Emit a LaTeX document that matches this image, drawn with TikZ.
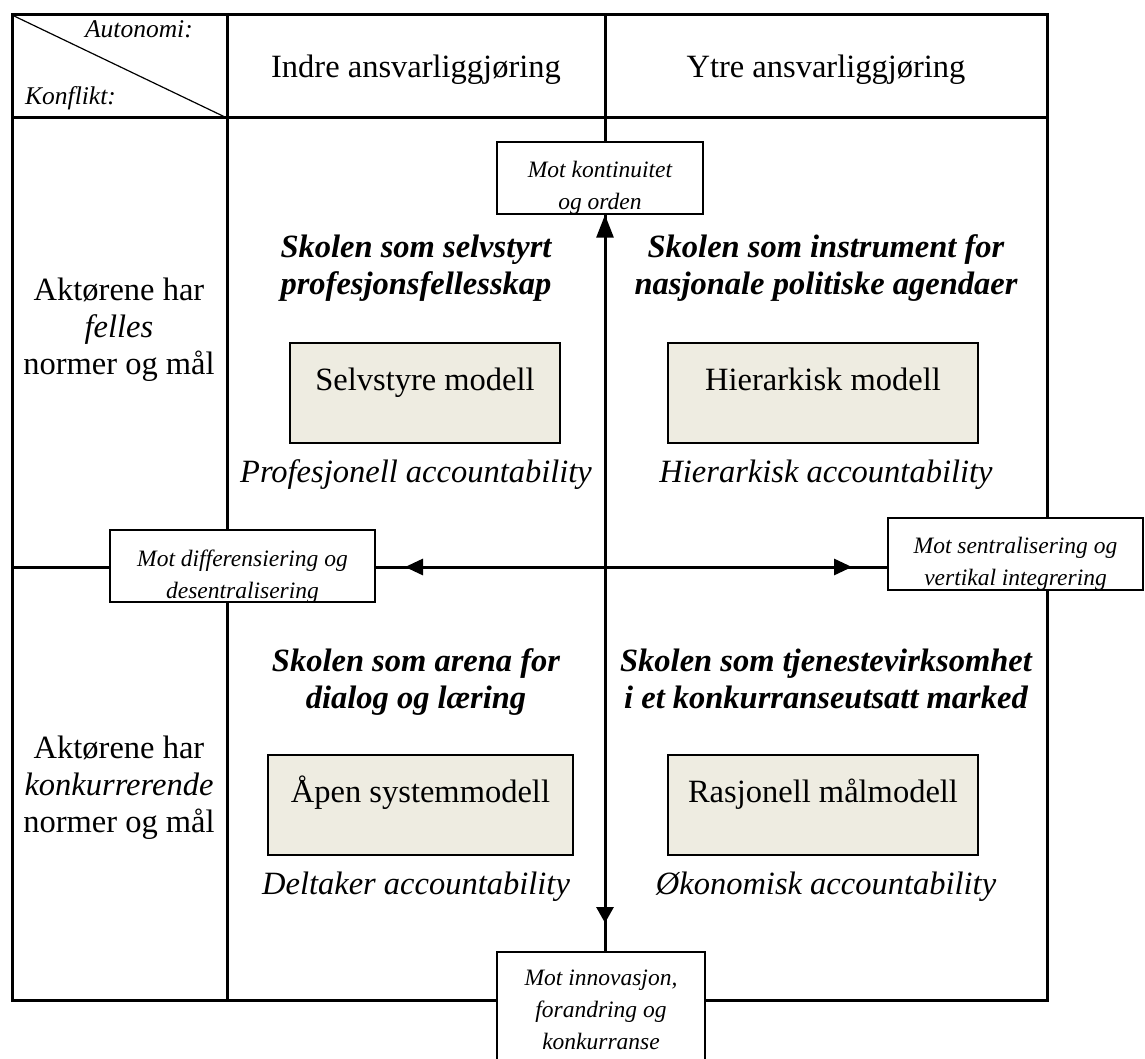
\documentclass[tikz,border=0pt]{standalone}
\usepackage{fontspec}
\setmainfont{Liberation Serif}
\usetikzlibrary{arrows.meta}
\definecolor{boxgrey}{HTML}{EEECE1}
\begin{document}
\begin{tikzpicture}[x=1pt,y=-1pt,
  grid/.style={line width=3pt},
  axis/.style={line width=3pt},
  big/.style={font=\fontsize{32.5}{37}\selectfont},
  bigit/.style={font=\fontsize{32.5}{37}\selectfont\itshape},
  bigbi/.style={font=\fontsize{32.5}{37}\selectfont\bfseries\itshape},
  hdr/.style={font=\fontsize{25.5}{30}\selectfont\itshape},
  model/.style={draw, line width=2pt, fill=boxgrey, inner sep=0pt, text height=47pt, text depth=53pt, anchor=base,
                font=\fontsize{32.5}{37}\selectfont},
  tagbox/.style={draw, line width=1.5pt, fill=white, inner sep=0pt},
  tagtext/.style={draw=none, fill=none, minimum width=0pt, minimum height=0pt, inner sep=0pt,
                  align=center, anchor=north, font=\fontsize{23.5}{32}\selectfont\itshape},
]
\useasboundingbox (0,0) rectangle (1145,1059);

% table grid
\draw[grid] (12,15) rectangle (1047,1000);
\draw[grid] (12,118) -- (1047,118);
\draw[grid] (227,15) -- (227,1000);
\draw[grid] (605,15) -- (605,1000);
\draw[grid] (12,567) -- (1047,567);
\draw[line width=1.2pt] (12,15) -- (227,118);

% header
\node[big, anchor=base] (indre) at (416,78) {Indre ansvarliggjøring};
\node[big, anchor=base] (ytre) at (826,78) {Ytre ansvarliggjøring};
\node[hdr, anchor=base east, inner sep=0pt] (auto) at (193,38) {Autonomi:};
\node[hdr, anchor=base west, inner sep=0pt] (konf) at (25,105) {Konflikt:};

% row labels
\node[big, align=center, anchor=north, inner sep=0pt] (felles) at (119,277.6) {Aktørene har\\\textit{felles}\\normer og mål};
\node[big, align=center, anchor=north, inner sep=0pt] (konk) at (119,735.6) {Aktørene har\\\textit{konkurrerende}\\normer og mål};

% quadrant titles
\node[bigbi, align=center, anchor=north, inner sep=0pt] (t1) at (416,234.6) {Skolen som selvstyrt\\profesjonsfellesskap};
\node[bigbi, align=center, anchor=north, inner sep=0pt] (t2) at (826,234.6) {Skolen som instrument for\\nasjonale politiske agendaer};
\node[bigbi, align=center, anchor=north, inner sep=0pt] (t3) at (416,648.6) {Skolen som arena for\\dialog og læring};
\node[bigbi, align=center, anchor=north, inner sep=0pt] (t4) at (826,648.6) {Skolen som tjenestevirksomhet\\i et konkurranseutsatt marked};

% model boxes
\node[model, minimum width=270pt] (m1) at (425,390) {Selvstyre modell};
\node[model, minimum width=310pt] (m2) at (823,390) {Hierarkisk modell};
\node[model, minimum width=305pt] (m3) at (420.5,802) {Åpen systemmodell};
\node[model, minimum width=310pt] (m4) at (823,802) {Rasjonell målmodell};

% accountability labels
\node[bigit, anchor=base] (a1) at (416,482) {Profesjonell accountability};
\node[bigit, anchor=base] (a2) at (826,482) {Hierarkisk accountability};
\node[bigit, anchor=base] (a3) at (416,894) {Deltaker accountability};
\node[bigit, anchor=base] (a4) at (826,894) {Økonomisk accountability};

% direction boxes (text clipped by the box)
\node[tagbox, minimum width=206pt, minimum height=72pt,
  path picture={\node[tagtext] (tt1) at ([yshift=-18.8pt]path picture bounding box.north) {Mot kontinuitet\\og orden};}]
  (topbox) at (600,178) {};
\node[tagbox, minimum width=265pt, minimum height=72pt,
  path picture={\node[tagtext] (tt2) at ([yshift=-18.8pt]path picture bounding box.north) {Mot differensiering og\\desentralisering};}]
  (leftbox) at (242.5,566) {};
\node[tagbox, minimum width=255pt, minimum height=72pt,
  path picture={\node[tagtext] (tt3) at ([yshift=-18.8pt]path picture bounding box.north) {Mot sentralisering og\\vertikal integrering};}]
  (rightbox) at (1015.5,554) {};
\node[tagbox, minimum width=208pt, minimum height=128pt,
  path picture={\node[tagtext] (tt4) at ([yshift=-16.8pt]path picture bounding box.north) {Mot innovasjon,\\forandring og\\konkurranse};}]
  (botbox) at (601,1016) {};

% axes with arrowheads
\coordinate (c) at (605,567);
\coordinate (dtip) at (605,923);
\coordinate (ltip) at (405,567);
\coordinate (rtip) at (852,567);
\draw[axis, -{Triangle[length=23pt,width=17pt]}] (c) -- (topbox.south -| c);
\draw[axis, -{Triangle[length=16pt,width=17pt]}] (c) -- (dtip);
\draw[axis] (dtip) -- (botbox.north -| c);
\draw[axis, -{Triangle[length=18pt,width=16pt]}] (c) -- (ltip);
\draw[axis] (ltip) -- (leftbox.east |- c);
\draw[axis, -{Triangle[length=18pt,width=16pt]}] (c) -- (rtip);
\draw[axis] (rtip) -- (rightbox.west |- c);
\end{tikzpicture}
\end{document}
